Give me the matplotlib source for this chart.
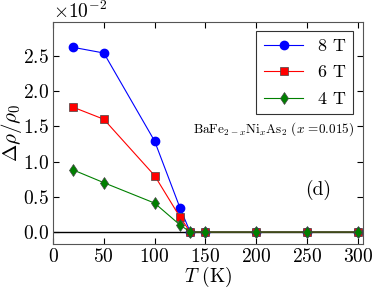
import matplotlib
matplotlib.use('Agg')
import matplotlib.pyplot as plt
from matplotlib.ticker import ScalarFormatter

# Temperaturas (K) y datos de magnetorresistencia (x 1e-2)
temps = [20, 50, 100, 125, 135, 150, 200, 250, 300]
mr_8t = [2.62, 2.54, 1.29, 0.34, 0.0, 0.0, 0.0, 0.0, 0.0]
mr_6t = [1.77, 1.60, 0.80, 0.21, 0.0, 0.0, 0.0, 0.0, 0.0]
mr_4t = [0.88, 0.70, 0.41, 0.10, 0.0, 0.0, 0.0, 0.0, 0.0]
labels = ['8 T', '6 T', '4 T']

plt.rcParams['font.family'] = 'serif'
plt.rcParams['font.serif'] = ['cmr10', 'DejaVu Serif']
plt.rcParams['mathtext.fontset'] = 'cm'
plt.rcParams['axes.unicode_minus'] = False
plt.rcParams['axes.formatter.use_mathtext'] = True

fig = plt.figure(figsize=(3.82, 2.88), dpi=100)
ax = fig.add_axes([53 / 382, 44 / 288, 310 / 382, 222 / 288])

scale = 1e-2
ax.axhline(0, color='black', lw=1.0, zorder=1)
ax.plot(temps, [v * scale for v in mr_8t], 'o-', color='blue', lw=0.8, ms=6,
        mec='blue', label=labels[0])
ax.plot(temps, [v * scale for v in mr_6t], 's-', color='red', lw=0.8, ms=6,
        mec='#444444', mew=0.5, label=labels[1])
ax.plot(temps, [v * scale for v in mr_4t], 'd-', color='green', lw=0.8, ms=6,
        mec='#444444', mew=0.5, label=labels[2])

ax.set_xlim(0, 305)
ax.set_ylim(-0.0017, 0.0298)
ax.set_xticks([0, 50, 100, 150, 200, 250, 300])
ax.set_yticks([0, 0.005, 0.01, 0.015, 0.02, 0.025])

fmt = ScalarFormatter(useMathText=True)
fmt.set_powerlimits((-1, 1))
ax.yaxis.set_major_formatter(fmt)
ax.yaxis.get_offset_text().set_fontsize(14)

ax.tick_params(direction='in', top=True, right=True, labelsize=14, length=4,
               pad=3)
for s in ax.spines.values():
    s.set_color('#555555')

ax.set_xlabel(r'$T$ (K)', fontsize=14, labelpad=-1)
ax.set_ylabel(r'$\Delta\rho/\rho_0$', fontsize=15, labelpad=-1)

leg = ax.legend(loc='upper right', numpoints=1, fontsize=13, fancybox=False,
                handlelength=2.2, handletextpad=0.8, borderpad=0.4,
                labelspacing=0.6, borderaxespad=0,
                bbox_to_anchor=(0.968, 0.959))
leg.get_frame().set_edgecolor('black')
leg.get_frame().set_linewidth(0.8)

ax.text(0.971, 0.518, r'BaFe$_{2-x}$Ni$_x$As$_2$ ($x$ =0.015)',
        transform=ax.transAxes, ha='right', va='center', fontsize=9.5)
ax.text(0.855, 0.243, '(d)', transform=ax.transAxes, ha='center', va='center',
        fontsize=14)

plt.savefig('out.png', dpi=100)
